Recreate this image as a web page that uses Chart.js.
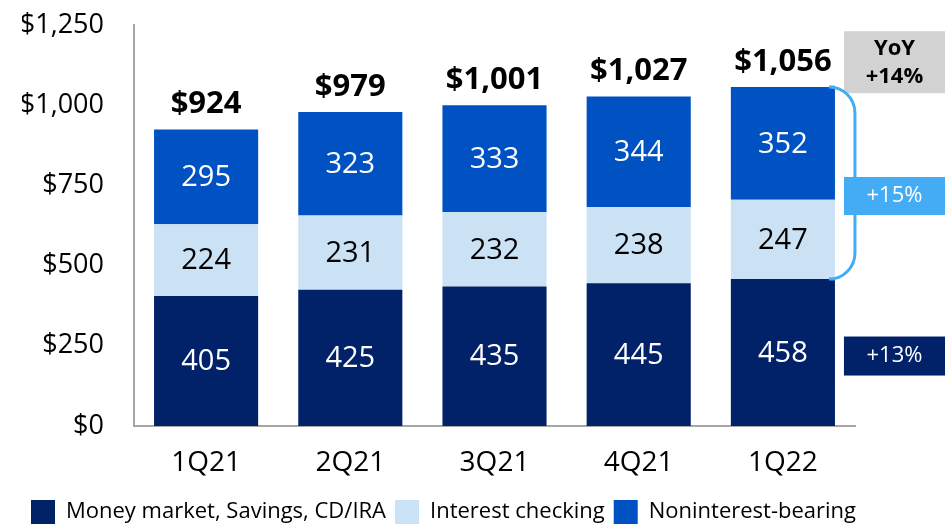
<!DOCTYPE html>
<html>
<head>
<meta charset="utf-8">
<script src="https://cdn.jsdelivr.net/npm/chart.js@4/dist/chart.umd.min.js"></script>
<style>
  html, body { margin: 0; padding: 0; background: #fff; }
  canvas { display: block; }
</style>
</head>
<body>
<canvas id="depositsChart" width="945" height="524"></canvas>
<script>
// Chart values
const quarters = ['1Q21', '2Q21', '3Q21', '4Q21', '1Q22'];
const moneyMarket = [405, 425, 435, 445, 458];
const interestChecking = [224, 231, 232, 238, 247];
const noninterestBearing = [295, 323, 333, 344, 352];
const totals = [924, 979, 1001, 1027, 1056];
const yTicks = [0, 250, 500, 750, 1000, 1250];
const seriesNames = ['Money market, Savings, CD/IRA', 'Interest checking', 'Noninterest-bearing'];
const yoyLabel = ['YoY', '+14%'];
const checkingGrowth = '+15%';
const savingsGrowth = '+13%';

const FONT = '"Open Sans", "Noto Sans", sans-serif';
const NAVY = '#012169';
const LIGHT = '#cbe1f4';
const MID = '#0052c2';
const SKY = '#44acf5';

function money(v) {
  return '$' + v.toLocaleString('en-US');
}

// Draws segment values, totals and the right-hand growth call-outs
const labelsPlugin = {
  id: 'labelsPlugin',
  afterDatasetsDraw(chart) {
    const ctx = chart.ctx;
    const y = chart.scales.y;
    ctx.save();
    ctx.textAlign = 'center';
    ctx.textBaseline = 'middle';

    chart.data.datasets.forEach((ds, i) => {
      const meta = chart.getDatasetMeta(i);
      meta.data.forEach((bar, j) => {
        const p = bar.getProps(['x', 'y', 'base'], true);
        ctx.font = '29px ' + FONT;
        ctx.fillStyle = i === 1 ? '#000' : '#fff';
        ctx.fillText(String(ds.data[j]), p.x, (p.y + p.base) / 2 + 1);
      });
    });

    // totals above the bars
    const topMeta = chart.getDatasetMeta(2);
    ctx.font = 'bold 31px ' + FONT;
    ctx.fillStyle = '#000';
    topMeta.data.forEach((bar, j) => {
      ctx.fillText(money(totals[j]), bar.x, y.getPixelForValue(totals[j]) - 25);
    });

    // call-outs next to the last bar
    const last = quarters.length - 1;
    const lastBar = topMeta.data[last];
    const barRight = lastBar.x + lastBar.width / 2;
    const boxLeft = barRight + 9;
    const boxW = chart.width - boxLeft;
    const cx = boxLeft + boxW / 2;

    // YoY box
    const yoyCenter = y.getPixelForValue(totals[last]) - 25;
    ctx.fillStyle = '#d2d2d2';
    ctx.fillRect(boxLeft, yoyCenter - 31, boxW, 62);
    ctx.fillStyle = '#000';
    ctx.font = 'bold 22px ' + FONT;
    ctx.fillText(yoyLabel[0], cx, yoyCenter - 14);
    ctx.fillText(yoyLabel[1], cx, yoyCenter + 14);

    // bracket over the two checking segments
    const bTop = y.getPixelForValue(moneyMarket[last] + interestChecking[last] + noninterestBearing[last]);
    const bBot = y.getPixelForValue(moneyMarket[last]);
    const bx = barRight + 20;
    const r = 26;
    ctx.strokeStyle = SKY;
    ctx.lineWidth = 3;
    ctx.beginPath();
    ctx.moveTo(barRight, bTop);
    ctx.arcTo(bx, bTop, bx, bTop + r, r);
    ctx.lineTo(bx, bBot - r);
    ctx.arcTo(bx, bBot, barRight, bBot, r);
    ctx.lineTo(barRight, bBot);
    ctx.stroke();

    const midCheck = (bTop + bBot) / 2 + 13;
    ctx.fillStyle = SKY;
    ctx.fillRect(boxLeft, midCheck - 19, boxW, 38);
    ctx.fillStyle = '#fff';
    ctx.font = '22px ' + FONT;
    ctx.fillText(checkingGrowth, cx, midCheck);

    const midSave = y.getPixelForValue(moneyMarket[last] / 2) + 3;
    ctx.fillStyle = NAVY;
    ctx.fillRect(boxLeft, midSave - 19, boxW, 39);
    ctx.fillStyle = '#fff';
    ctx.fillText(savingsGrowth, cx, midSave);

    ctx.restore();
  }
};

new Chart(document.getElementById('depositsChart'), {
  type: 'bar',
  data: {
    labels: quarters,
    datasets: [
      { label: seriesNames[0], data: moneyMarket, backgroundColor: NAVY },
      { label: seriesNames[1], data: interestChecking, backgroundColor: LIGHT },
      { label: seriesNames[2], data: noninterestBearing, backgroundColor: MID }
    ]
  },
  options: {
    responsive: false,
    animation: false,
    layout: { padding: { left: 22, right: 0, top: 25, bottom: -10 } },
    datasets: { bar: { categoryPercentage: 1, barPercentage: 0.722 } },
    scales: {
      x: {
        stacked: true,
        afterFit(scale) { scale.height = 65; },
        grid: { display: false, drawTicks: false },
        border: { display: true, color: '#a6a6a6', width: 2 },
        ticks: { color: '#000', font: { family: FONT, size: 28 }, padding: 20 }
      },
      y: {
        stacked: true,
        min: 0,
        max: 1250,
        afterFit(scale) { scale.width = 112; scale.paddingTop = 0; scale.paddingBottom = 0; },
        afterBuildTicks(scale) { scale.ticks = yTicks.map(v => ({ value: v })); },
        grid: { display: false, drawTicks: false },
        border: { display: true, color: '#a6a6a6', width: 2 },
        ticks: {
          color: '#000',
          font: { family: FONT, size: 27 },
          padding: 30,
          callback: v => money(v)
        }
      },
      // empty right-hand gutter for the growth call-outs
      gutter: {
        position: 'right',
        grid: { display: false, drawTicks: false },
        border: { display: false },
        ticks: { display: false },
        afterFit(scale) { scale.width = 90; scale.paddingTop = 0; scale.paddingBottom = 0; }
      }
    },
    plugins: {
      tooltip: { enabled: false },
      legend: {
        position: 'bottom',
        align: 'start',
        labels: {
          color: '#000',
          boxWidth: 24,
          boxHeight: 24,
          padding: 9,
          font: { family: FONT, size: 22 }
        }
      }
    }
  },
  plugins: [labelsPlugin]
});
</script>
</body>
</html>
